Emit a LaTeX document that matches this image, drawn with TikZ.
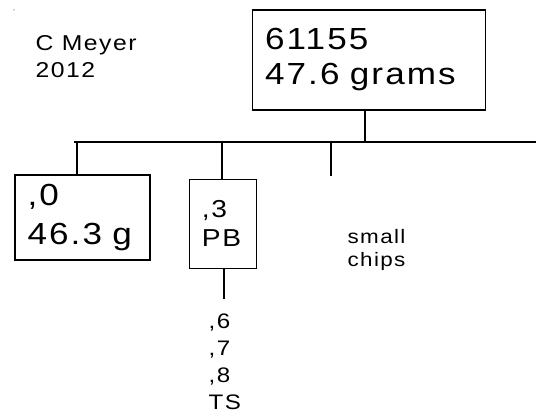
\documentclass[tikz,border=0pt]{standalone}
\usepackage{fontspec}
\setmainfont{Liberation Sans}[FakeStretch=1.15,LetterSpace=7]

\newcommand*{\busy}{142}
\newcommand*{\busl}{74}
\newcommand*{\busr}{536}

\begin{document}
\begin{tikzpicture}
[
	x=1pt, y=-1pt,
	line width=1.3pt,
	box/.style={draw,inner xsep=12.5pt,inner ysep=0pt,align=left},
	freetext/.style={inner sep=0pt,align=left,anchor=north west}
]
	\useasboundingbox (0,0) rectangle (536,417);

	% boxes
	\node[box,text width=208pt,minimum height=100pt,font=\fontsize{30.5}{35}\selectfont] (top) at (369,60) {61155\\47.6 grams};
	\node[box,text width=110pt,minimum height=85pt,font=\fontsize{30.5}{39}\selectfont] (zero) at (82.5,217.5) {,0\\46.3 g};
	\node[box,text width=42pt,minimum height=89pt,font=\fontsize{24.5}{29}\selectfont] (pb) at (222.8,223.7) {,3\\PB};

	% loose text
	\node[freetext,font=\fontsize{21.5}{27}\selectfont] (author) at (35,35) {C Meyer\\2012};
	\node[freetext,font=\fontsize{19.5}{23.5}\selectfont] (chips) at (347,228.5) {small\\chips};
	\node[freetext,font=\fontsize{21}{27}\selectfont] (ts) at (208,313) {,6\\,7\\,8\\TS};
	\fill (14,10) circle (0.5pt);

	% bus
	\coordinate (bl) at (\busl,\busy);
	\coordinate (br) at (\busr,\busy);
	\coordinate (jtop) at (365,\busy);
	\coordinate (jzero) at (77,\busy);
	\coordinate (jpb) at (222,\busy);
	\coordinate (jchips) at (331,\busy);
	\coordinate (chipsend) at (331,176);
	\coordinate (tsend) at (224,299);

	% connectors
	\draw (bl) -- (br);
	\draw (jtop |- top.south) -- (jtop);
	\draw (jzero) -- (jzero |- zero.north);
	\draw (jpb) -- (jpb |- pb.north);
	\draw (jchips) -- (chipsend);
	\draw (tsend |- pb.south) -- (tsend);

\end{tikzpicture}
\end{document}
